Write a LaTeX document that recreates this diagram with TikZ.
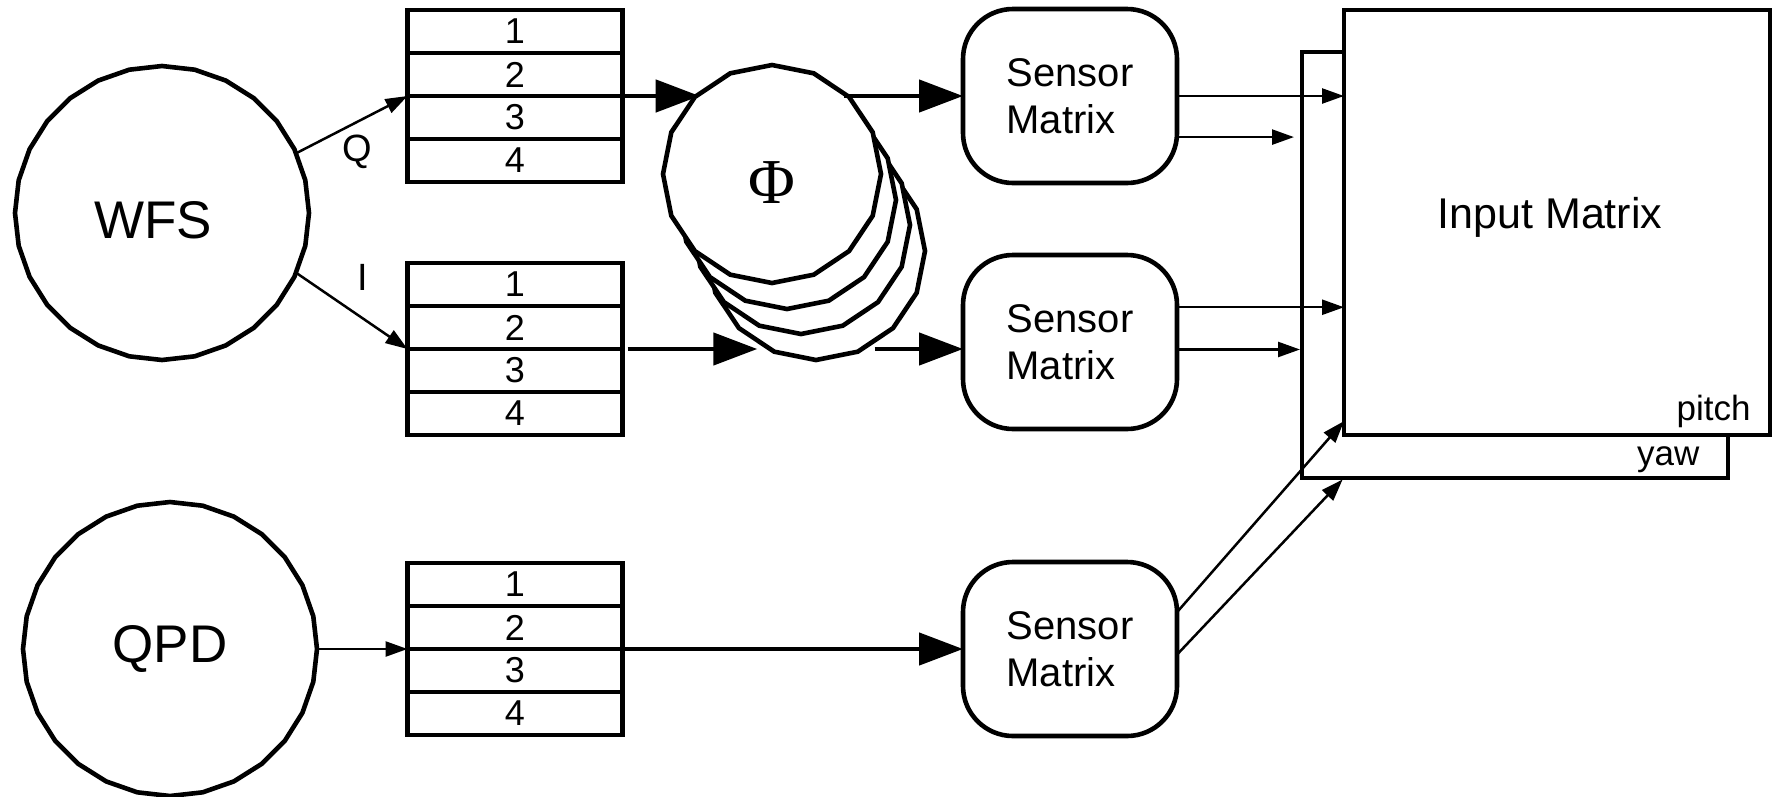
\documentclass[tikz,border=0pt]{standalone}
\usepackage[no-math]{fontspec}
\setmainfont{Liberation Sans}
\newfontfamily\phifont{Liberation Serif}
\usetikzlibrary{arrows.meta, positioning, calc, shapes.geometric}

\tikzset{
  boxline/.style={draw, line width=4.6pt, fill=white, inner sep=0pt, outer sep=0pt},
  detector/.style={boxline, regular polygon, regular polygon sides=28, shape border rotate=6.43,
    minimum size=294pt},
  detfont/.style={font=\fontsize{53}{60}\selectfont},
  phase/.style={boxline, regular polygon, regular polygon sides=16, shape border rotate=11.25,
    minimum size=218pt},
  cell/.style={boxline, minimum width=215pt, minimum height=43pt, font=\fontsize{36}{40}\selectfont},
  sensor/.style={boxline, rounded corners=50pt, minimum width=214pt, minimum height=174pt,
    align=left, font=\fontsize{40}{47}\selectfont},
  matrixbox/.style={boxline, minimum width=426pt, minimum height=426pt},
  thinarrow/.style={line width=2.5pt, -{Triangle[length=22pt, width=15pt]}},
  bigarrow/.style={line width=4.6pt, -{Triangle[length=44pt, width=32pt]}},
  sigfont/.style={font=\fontsize{38}{44}\selectfont},
  axisfont/.style={font=\fontsize{35}{40}\selectfont},
}

\begin{document}
\begin{tikzpicture}[x=1pt, y=-1pt]
  \useasboundingbox (0,0) rectangle (1775,796);

  % detectors
  \node[detector, label={[detfont, xshift=-9pt, yshift=-7pt]center:WFS}] (wfs) at (162,213) {};
  \node[detector, label={[detfont]center:QPD}] (qpd) at (170,649) {};

  % signal registers, four channels each
  \foreach \reg/\ytop in {qreg/10, ireg/263, preg/563}
    \foreach \k in {1,...,4}
      \node[cell] (\reg\k) at (515,{\ytop+21.5+43*(\k-1)}) {\k};

  % phase rotation, stacked copies behind the front one
  \node[phase] (phi3) at (816,251) {};
  \node[phase] (phi2) at (801,225) {};
  \node[phase] (phi1) at (787,200) {};
  \node[phase, label={[font=\phifont\fontsize{64}{70}\selectfont, yshift=-9pt]center:Φ}] (phi) at (772,174) {};

  % sensor matrices
  \node[sensor] (sens1) at (1070,96) {Sensor\\Matrix};
  \node[sensor] (sens2) at (1070,342) {Sensor\\Matrix};
  \node[sensor] (sens3) at (1070,649) {Sensor\\Matrix};

  % input matrix: yaw plane behind the pitch plane
  \node[matrixbox] (yawmat) at (1515,265) {};
  \node[matrixbox, minimum height=425pt] (inmat) at (1557,222.5) {};
  \node[font=\fontsize{43}{50}\selectfont, anchor=base] (inlbl) at ([xshift=-7pt, yshift=-5.5pt]inmat.center) {Input Matrix};
  \node[axisfont, anchor=base east] (pitchlbl) at ([xshift=-16pt, yshift=15pt]inmat.south east) {pitch};
  \node[axisfont, anchor=base east] (yawlbl) at ([xshift=-25pt, yshift=13pt]yawmat.south east) {yaw};

  % detector outputs
  \draw[thinarrow] (wfs.24) -- node[sigfont, pos=0.55, yshift=-30pt] {Q} (qreg2.south west);
  \draw[thinarrow] (wfs.-24) -- node[sigfont, pos=0.6, yshift=41pt] {I} (ireg2.south west);
  \draw[thinarrow] (qpd) -- (preg2.south west);

  % registers through the phase rotation
  \draw[bigarrow] (qreg2.south west) -- (qreg2.south west -| phi.132);
  \draw[bigarrow] (phi.48 |- sens1.west) -- (sens1.west);
  \draw[bigarrow, shorten <=5pt, shorten >=13pt] (ireg2.south east) -- (ireg2.south east -| phi3.245);
  \draw[bigarrow, shorten <=13pt] (phi3.295 |- ireg2.south east) -- (sens2.west |- ireg2.south east);
  \draw[bigarrow] (preg2.south west) -- (sens3.west);

  % sensor matrices into pitch and yaw
  \draw[thinarrow] (sens1.east) -- (sens1.east -| inmat.west);
  \draw[thinarrow, shorten >=8pt] (sens1.-21) -- (sens1.-21 -| yawmat.west);
  \draw[thinarrow] (sens2.18) -- (sens2.18 -| inmat.west);
  \draw[thinarrow, shorten >=2pt] (sens2.-4) -- (sens2.-4 -| yawmat.west);
  \draw[thinarrow] (sens3.19) -- (inmat.223);
  \draw[thinarrow, shorten >=2pt] (sens3.-3) -- (inmat.west |- yawmat.south);
\end{tikzpicture}
\end{document}
